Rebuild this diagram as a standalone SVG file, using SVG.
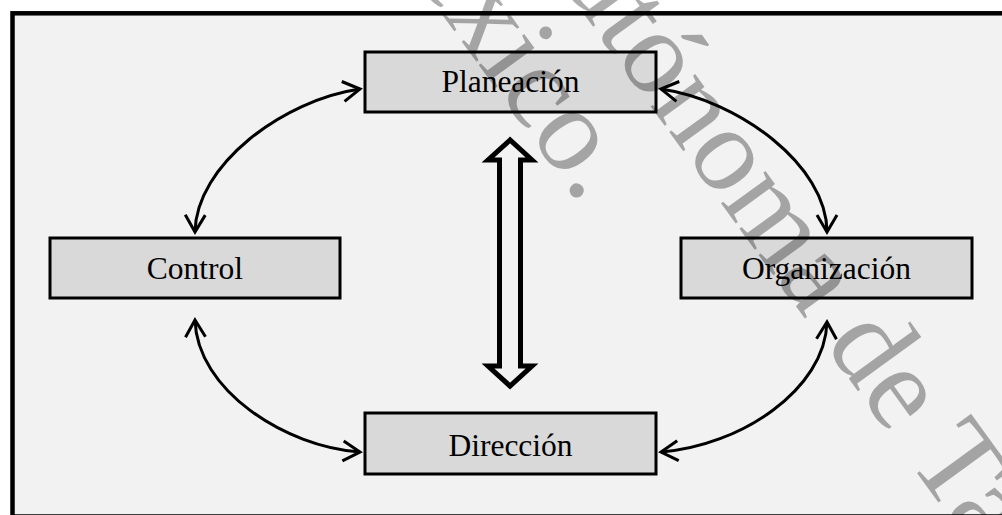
<svg xmlns="http://www.w3.org/2000/svg" width="1002" height="515" viewBox="0 0 1002 515">
<defs>
<style>
.box{fill:#d9d9d9;stroke:#000;stroke-width:3}
.lbl{font-family:"Liberation Serif","Times New Roman",serif;font-size:31.5px;fill:#000;text-anchor:middle}
.con{fill:none;stroke:#000;stroke-width:3;marker-start:url(#chev);marker-end:url(#chev)}
.wm{font-family:"Liberation Serif","Times New Roman",serif;font-size:120px;fill:#000;fill-opacity:0.32}
</style>
<marker id="chev" markerUnits="userSpaceOnUse" orient="auto-start-reverse" refX="0" refY="0" markerWidth="40" markerHeight="40" viewBox="-20 -20 40 40" overflow="visible">
<path d="M-17,-10 L0,0 L-17,10" fill="none" stroke="#000" stroke-width="3" stroke-linejoin="miter"/>
</marker>
</defs>
<rect x="0" y="0" width="1002" height="515" fill="#ffffff"/>
<rect id="frame" x="12.5" y="13.3" width="1010" height="503.2" fill="#f2f2f2" stroke="#000" stroke-width="4.5"/>
<g id="connectors">
<path class="con" d="M195,232 C196,165 283,100 360,89"/>
<path class="con" d="M661,89 C738,100 827,165 827,232"/>
<path class="con" d="M195,320 C197,390 285,447 360,452"/>
<path class="con" d="M827,322 C825,390 740,446 661,452"/>
<polygon id="double-arrow" points="510,140 488,160 499.5,160 499.5,366 488,366 510,386 532,366 520.5,366 520.5,160 532,160" fill="#f2f2f2" stroke="#000" stroke-width="5" stroke-linejoin="miter"/>
</g>
<g id="planeacion">
<rect class="box" x="365" y="52" width="291" height="60"/>
<text class="lbl" x="510.5" y="92">Planeación</text>
</g>
<g id="control">
<rect class="box" x="50" y="238" width="290" height="60"/>
<text class="lbl" x="195" y="279">Control</text>
</g>
<g id="organizacion">
<rect class="box" x="681" y="238" width="291" height="60"/>
<text class="lbl" x="826.5" y="279">Organización</text>
</g>
<g id="direccion">
<rect class="box" x="365" y="413" width="291" height="61"/>
<text class="lbl" x="510.5" y="455.5">Dirección</text>
</g>
<g id="watermark">
<text class="wm" transform="translate(508,-90) rotate(54)">Autónoma de Tabasco.</text>
<text class="wm" transform="translate(348,-115) rotate(54)">México.</text>
</g>
</svg>
